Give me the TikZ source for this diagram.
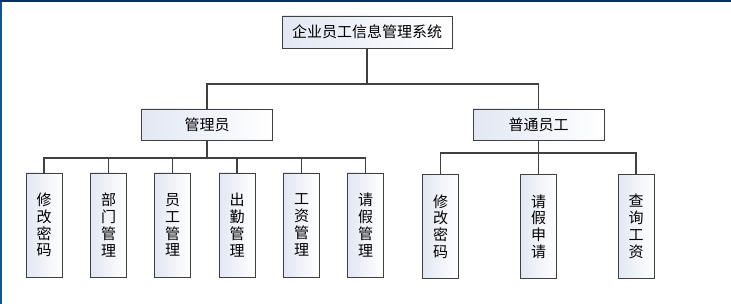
\documentclass[tikz,border=0pt]{standalone}
\usepackage{fontspec}
\setmainfont{Noto Sans CJK SC}
\usepackage{tikz}
\usetikzlibrary{positioning}

\definecolor{frameblue}{RGB}{16,84,150}
\definecolor{framenavy}{RGB}{8,48,100}
\definecolor{boxshade}{RGB}{226,231,243}
\definecolor{linegray}{RGB}{64,64,64}

\tikzset{
  box/.style={draw=linegray, line width=0.9pt, left color=boxshade, right color=white,
    inner sep=0pt, font=\fontsize{15}{16.8}\selectfont, text=black},
  wide/.style={box, minimum width=170pt, minimum height=32pt},
  mid/.style={box, minimum width=131pt, minimum height=31pt},
  leaf/.style={box, minimum width=36pt, minimum height=104pt, align=center, text width=36pt},
  link/.style={draw=linegray, line width=1.2pt}
}

\begin{document}
\begin{tikzpicture}[x=1pt, y=-1pt]
\useasboundingbox (0,0) rectangle (731,304);
\fill[white] (0,0) rectangle (731,304);
\fill[frameblue] (0,0) rectangle (2,304);
\fill[framenavy] (0,0) rectangle (731,2);

% Top levels
\node[wide] (sys) at (367,32) {企业员工信息管理系统};
\node[mid] (admin) at (207,124.5) {管理员};
\node[mid] (staff) at (538.5,124.5) {普通员工};

\coordinate (bus0) at (367,84);
\draw[link] (sys) -- (bus0);
\draw[link] (admin) |- (bus0) -| (staff);

% Admin leaves
\node[leaf] (a1) at (44,225) {修\\改\\密\\码};
\node[leaf] (a2) at (108.5,225) {部\\门\\管\\理};
\node[leaf] (a3) at (172.5,225) {员\\工\\管\\理};
\node[leaf] (a4) at (237,225) {出\\勤\\管\\理};
\node[leaf] (a5) at (301.5,225) {工\\资\\管\\理};
\node[leaf] (a6) at (365.5,225) {请\\假\\管\\理};

\coordinate (bus1) at (207,158);
\draw[link] (admin) -- (bus1);
\foreach \n in {a1,a2,a3,a4,a5,a6}
  \draw[link] (bus1) -| (\n);

% Staff leaves
\node[leaf] (s1) at (440.5,226.5) {修\\改\\密\\码};
\node[leaf] (s2) at (538.5,226.5) {请\\假\\申\\请};
\node[leaf] (s3) at (636,226.5) {查\\询\\工\\资};

\coordinate (bus2) at (538.5,153);
\draw[link] (staff) -- (s2);
\foreach \n in {s1,s3}
  \draw[link] (bus2) -| (\n);
\end{tikzpicture}
\end{document}
